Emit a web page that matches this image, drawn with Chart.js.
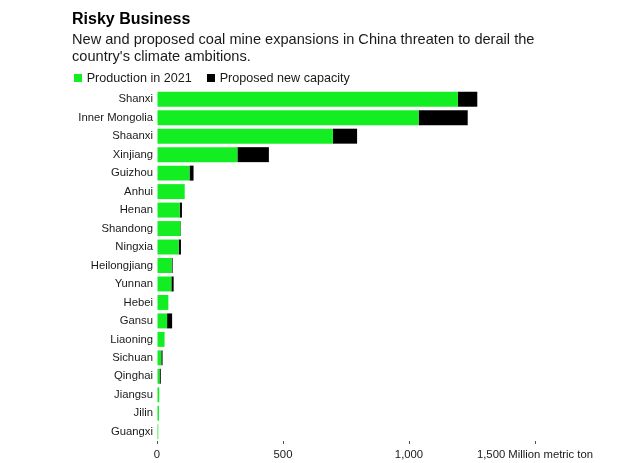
<!DOCTYPE html>
<html>
<head>
<meta charset="utf-8">
<script src="https://cdn.jsdelivr.net/npm/chart.js@4"></script>
<style>
  html, body { margin: 0; padding: 0; background: #fff; }
  body { width: 624px; height: 463px; position: relative; overflow: hidden;
         font-family: "Liberation Sans", Arial, sans-serif; color: #1a1a1a; }
  #wrap { position: absolute; left: 0; top: 0; width: 624px; height: 463px; }
  .title { position: absolute; left: 72px; top: 10.5px; font-size: 16px; line-height: 16px; font-weight: bold; color: #000; white-space: nowrap; }
  .subtitle { position: absolute; left: 72px; top: 30.5px; font-size: 14.6px; line-height: 17.5px; color: #1a1a1a; white-space: nowrap; }
  .leg { position: absolute; top: 72px; font-size: 12.6px; line-height: 13px; white-space: nowrap; color: #1a1a1a; }
  .leg i { display: inline-block; width: 8px; height: 8px; margin-right: 4.7px; }
</style>
</head>
<body>
<div id="wrap"><canvas id="coalChart" width="624" height="463"></canvas></div>
<div class="title">Risky Business</div>
<div class="subtitle">New and proposed coal mine expansions in China threaten to derail the<br>country's climate ambitions.</div>
<div class="leg" style="left:74px"><i style="background:#13ee22"></i>Production in 2021</div>
<div class="leg" style="left:207px"><i style="background:#000"></i>Proposed new capacity</div>
<script>
// provinces, top to bottom
var provinces = ['Shanxi', 'Inner Mongolia', 'Shaanxi', 'Xinjiang', 'Guizhou', 'Anhui', 'Henan',
    'Shandong', 'Ningxia', 'Heilongjiang', 'Yunnan', 'Hebei', 'Gansu', 'Liaoning', 'Sichuan',
    'Qinghai', 'Jiangsu', 'Jilin', 'Guangxi'];

// million metric tons
var production2021 = [1194, 1038, 698, 319, 129, 110, 90, 93, 86, 58, 57, 45, 40, 30, 17, 10, 9, 8, 5];
var proposedCapacity = [77, 195, 96, 125, 16, 0, 9, 2, 9, 4, 9, 0, 20, 0, 5, 5, 0, 0, 0];

var xTicks = [0, 500, 1000, 1500];
var unitLabel = 'Million metric ton';

Chart.defaults.font.family = '"Liberation Sans", Arial, sans-serif';
Chart.defaults.color = '#1a1a1a';

var ctx = document.getElementById('coalChart').getContext('2d');
var coalChart = new Chart(ctx, {
    type: 'bar',
    data: {
        labels: provinces,
        datasets: [{
            label: 'Production in 2021',
            data: production2021,
            backgroundColor: '#13ee22',
            borderWidth: 0,
            barPercentage: 0.81,
            categoryPercentage: 1.0
        }, {
            label: 'Proposed new capacity',
            data: proposedCapacity,
            backgroundColor: '#000000',
            borderWidth: 0,
            barPercentage: 0.81,
            categoryPercentage: 1.0
        }]
    },
    options: {
        indexAxis: 'y',
        responsive: false,
        animation: false,
        layout: {
            padding: { top: 90, right: 89, bottom: 0, left: 0 }
        },
        plugins: {
            legend: { display: false },
            tooltip: { enabled: false }
        },
        scales: {
            x: {
                stacked: true,
                min: 0,
                max: 1500,
                afterBuildTicks: function(scale) {
                    scale.ticks = xTicks.map(function(v) { return { value: v }; });
                },
                afterFit: function(scale) {
                    scale.height = 22;
                },
                grid: {
                    drawOnChartArea: false,
                    drawTicks: true,
                    tickLength: 3,
                    color: '#555'
                },
                border: { display: false },
                ticks: {
                    autoSkip: false,
                    padding: 4,
                    maxRotation: 0,
                    font: { size: 11.3 },
                    color: '#1a1a1a',
                    callback: function(value) {
                        var s = value.toLocaleString('en-US');
                        return value === 1500 ? s + ' ' + unitLabel : s;
                    }
                }
            },
            y: {
                stacked: true,
                afterFit: function(scale) {
                    scale.width = 157;
                },
                grid: { display: false, drawTicks: false },
                border: { display: false },
                ticks: {
                    autoSkip: false,
                    padding: 4,
                    font: { size: 11.3 },
                    color: '#1a1a1a'
                }
            }
        }
    }
});
</script>
</body>
</html>
